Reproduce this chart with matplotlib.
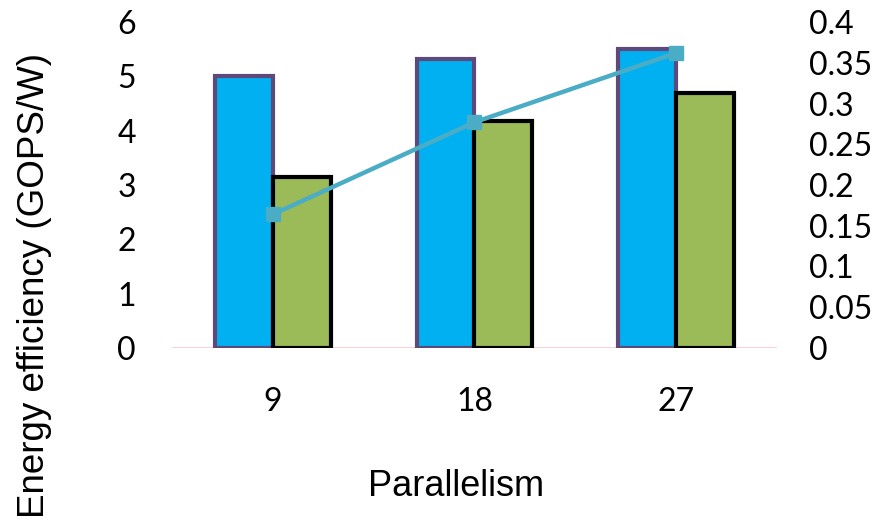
import matplotlib.pyplot as plt
import numpy as np

# parallelism settings on the x axis
parallelism = ['9', '18', '27']
# energy efficiency (GOPS/W), left axis
eff_a = [5.0, 5.32, 5.5]
eff_b = [3.14, 4.17, 4.7]
# right axis series
right_vals = [0.164, 0.277, 0.362]

tick_font = 'Lato'
label_font = 'Liberation Sans'

fig = plt.figure(figsize=(8.87, 5.27), dpi=100)
ax = fig.add_axes([172/887, 1 - 348/527, 605/887, 326/527])

x = np.arange(len(parallelism))
w = 0.287

ax.bar(x - w/2, eff_a, w, color='#00B0F0', edgecolor='#5F497A', linewidth=3, zorder=3)
ax.bar(x + w/2, eff_b, w, color='#9BBB59', edgecolor='black', linewidth=3, zorder=3)
ax.axhline(0, color='#FFC4C4', linewidth=1.8, zorder=2)

ax.set_xlim(-0.5, 2.5)
ax.set_ylim(0, 6)
ax.set_yticks(range(7))
ax.set_xticks(x)
ax.set_xticklabels(parallelism)
for s in ax.spines.values():
    s.set_visible(False)
ax.tick_params(axis='both', length=0, labelsize=23)
ax.tick_params(axis='y', pad=26)
ax.tick_params(axis='x', pad=28)
for lab in ax.get_xticklabels() + ax.get_yticklabels():
    lab.set_family(tick_font)

ax2 = ax.twinx()
ax2.plot(x, right_vals, color='#4BACC6', linewidth=3.2, marker='s', markersize=10.5, zorder=4)
ax2.set_ylim(0, 0.4)
yt = np.arange(0, 0.41, 0.05)
ax2.set_yticks(yt)
ax2.set_yticklabels(['%g' % round(v, 2) for v in yt])
for s in ax2.spines.values():
    s.set_visible(False)
ax2.tick_params(axis='y', length=0, labelsize=23, pad=23)
for lab in ax2.get_yticklabels():
    lab.set_family(tick_font)

fig.text(35/887, 1 - 285/527, 'Energy efficiency (GOPS/W)', rotation=90,
         ha='center', va='center', fontsize=26.5, family=label_font)
fig.text(456/887, 1 - 486/527, 'Parallelism', ha='center', va='center',
         fontsize=26, family=label_font)

fig.savefig('out.png', dpi=100)
